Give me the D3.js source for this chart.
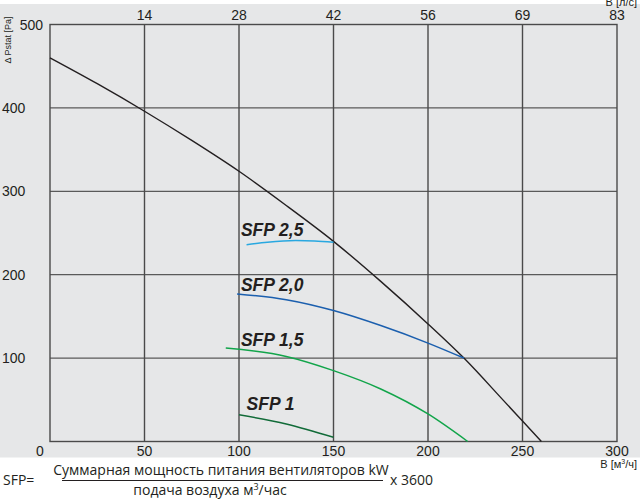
<!DOCTYPE html>
<html>
<head>
<meta charset="utf-8">
<script src="https://cdn.jsdelivr.net/npm/d3@7"></script>
<style>
  body { margin: 0; background: #fff; }
  svg { display: block; }
</style>
</head>
<body>
<div id="chart"></div>
<script>
// flow m3/h -> pressure Pa
const fanFlow = [0, 25, 50, 75, 100, 125, 150, 175, 200, 219, 240, 250, 260];
const fanPress = [460, 429, 396, 361, 324, 283, 240, 192, 141, 100, 49, 24.5, 0];

const sfp25Flow = [104, 115, 130, 140, 150];
const sfp25Press = [236, 239, 241, 240.5, 239];
const sfp20Flow = [99, 125, 150, 175, 200, 219];
const sfp20Press = [177, 170, 157, 139, 118, 100];
const sfp15Flow = [93, 125, 150, 175, 200, 221];
const sfp15Press = [112, 102, 85, 63, 33, 0];
const sfp1Flow = [100, 125, 150];
const sfp1Press = [32, 21, 5];

const xTicks = [0, 50, 100, 150, 200, 250, 300];
const yTicks = [0, 100, 200, 300, 400, 500];
const topTickLabels = ['14', '28', '42', '56', '69', '83'];

const sfpLabels = [
  { text: 'SFP 2,5', flow: 101, press: 246 },
  { text: 'SFP 2,0', flow: 101, press: 181 },
  { text: 'SFP 1,5', flow: 101, press: 114 },
  { text: 'SFP 1', flow: 104, press: 38 }
];

const width = 640, height = 499;
const margin = { top: 24.5, right: 23, bottom: 57.5, left: 50 };
const w = width - margin.left - margin.right;
const h = height - margin.top - margin.bottom;

const svg = d3.select('#chart').append('svg')
  .attr('width', width)
  .attr('height', height);

svg.append('rect')
  .attr('x', 0).attr('y', 4)
  .attr('width', width).attr('height', 453.5)
  .attr('fill', '#e6e7e8');

const g = svg.append('g')
  .attr('transform', `translate(${margin.left},${margin.top})`);

const x = d3.scaleLinear().domain([0, 300]).range([0, w]);
const y = d3.scaleLinear().domain([0, 500]).range([h, 0]);

const gridColor = '#4a4a4a';

// grid
g.selectAll('.hgrid').data(yTicks.slice(1, -1)).enter()
  .append('line')
  .attr('x1', 0).attr('x2', w)
  .attr('y1', d => y(d)).attr('y2', d => y(d))
  .attr('stroke', '#5a5a5a').attr('stroke-width', 1.3);

g.selectAll('.vgrid').data(xTicks.slice(1, -1)).enter()
  .append('line')
  .attr('x1', d => x(d)).attr('x2', d => x(d))
  .attr('y1', 0).attr('y2', h)
  .attr('stroke', gridColor).attr('stroke-width', 1.4);

g.append('rect')
  .attr('x', 0).attr('y', 0).attr('width', w).attr('height', h)
  .attr('fill', 'none').attr('stroke', gridColor).attr('stroke-width', 1.4);

const tickFont = "'Liberation Sans', Arial, sans-serif";

// bottom tick labels
g.selectAll('.xlab').data(xTicks).enter()
  .append('text')
  .attr('x', d => d === 0 ? x(d) - 10 : x(d))
  .attr('y', h + 14)
  .attr('text-anchor', 'middle')
  .attr('font-family', tickFont).attr('font-size', 14).attr('fill', '#231f20')
  .text(d => d);

// top tick labels (l/s)
g.selectAll('.toplab').data(topTickLabels).enter()
  .append('text')
  .attr('x', (d, i) => x(xTicks[i + 1]))
  .attr('y', -5)
  .attr('text-anchor', 'middle')
  .attr('font-family', tickFont).attr('font-size', 14).attr('fill', '#231f20')
  .text(d => d);

// left tick labels
g.selectAll('.ylab').data(yTicks.slice(1)).enter()
  .append('text')
  .attr('x', d => d === 500 ? -7 : -48)
  .attr('y', d => y(d) + 5)
  .attr('text-anchor', d => d === 500 ? 'end' : 'start')
  .attr('font-family', tickFont).attr('font-size', 14).attr('fill', '#231f20')
  .text(d => d);

// axis titles
svg.append('text')
  .attr('transform', 'translate(11,40) rotate(-90)')
  .attr('text-anchor', 'middle')
  .attr('font-family', tickFont).attr('font-size', 9).attr('fill', '#231f20')
  .text('Δ Pstat [Pa]');

svg.append('text')
  .attr('x', 637).attr('y', 6)
  .attr('text-anchor', 'end')
  .attr('font-family', tickFont).attr('font-size', 11).attr('fill', '#231f20')
  .text('В [л/с]');

const bUnit = svg.append('text')
  .attr('x', 637).attr('y', 468)
  .attr('text-anchor', 'end')
  .attr('font-family', tickFont).attr('font-size', 11).attr('fill', '#231f20');
bUnit.append('tspan').text('В [м');
bUnit.append('tspan').attr('font-size', 7).attr('dy', -4).text('3');
bUnit.append('tspan').attr('dy', 4).text('/ч]');

// curves
const line = d3.line()
  .x(d => x(d[0]))
  .y(d => y(d[1]))
  .curve(d3.curveMonotoneX);

const curves = [
  { flow: fanFlow, press: fanPress, color: '#231f20', width: 1.4 },
  { flow: sfp25Flow, press: sfp25Press, color: '#29a8e0', width: 1.5 },
  { flow: sfp20Flow, press: sfp20Press, color: '#1b5fae', width: 1.5 },
  { flow: sfp15Flow, press: sfp15Press, color: '#12a54a', width: 1.5 },
  { flow: sfp1Flow, press: sfp1Press, color: '#116b38', width: 1.5 }
];

curves.forEach(c => {
  g.append('path')
    .datum(c.flow.map((f, i) => [f, c.press[i]]))
    .attr('d', line)
    .attr('fill', 'none')
    .attr('stroke', c.color)
    .attr('stroke-width', c.width);
});

g.selectAll('.sfplab').data(sfpLabels).enter()
  .append('text')
  .attr('x', d => x(d.flow))
  .attr('y', d => y(d.press))
  .attr('font-family', tickFont)
  .attr('font-size', 17.5)
  .attr('font-weight', 'bold')
  .attr('font-style', 'italic')
  .attr('fill', '#231f20')
  .text(d => d.text);

// formula below the chart
const fFont = "'Open Sans', 'Noto Sans', sans-serif";
svg.append('text')
  .attr('x', 3).attr('y', 485)
  .attr('font-family', fFont).attr('font-size', 14).attr('fill', '#231f20')
  .text('SFP=');

svg.append('text')
  .attr('x', 221).attr('y', 475)
  .attr('text-anchor', 'middle')
  .attr('font-family', fFont).attr('font-size', 14).attr('fill', '#231f20')
  .text('Суммарная мощность питания вентиляторов kW');

svg.append('line')
  .attr('x1', 62).attr('x2', 383)
  .attr('y1', 480.5).attr('y2', 480.5)
  .attr('stroke', '#231f20').attr('stroke-width', 1);

svg.append('text')
  .attr('x', 390).attr('y', 485)
  .attr('font-family', fFont).attr('font-size', 14).attr('fill', '#231f20')
  .text('x 3600');

const den = svg.append('text')
  .attr('x', 210).attr('y', 495)
  .attr('text-anchor', 'middle')
  .attr('font-family', fFont).attr('font-size', 14).attr('fill', '#231f20');
den.append('tspan').text('подача воздуха м');
den.append('tspan').attr('font-size', 9).attr('dy', -5).text('3');
den.append('tspan').attr('dy', 5).text('/час');
</script>
</body>
</html>
